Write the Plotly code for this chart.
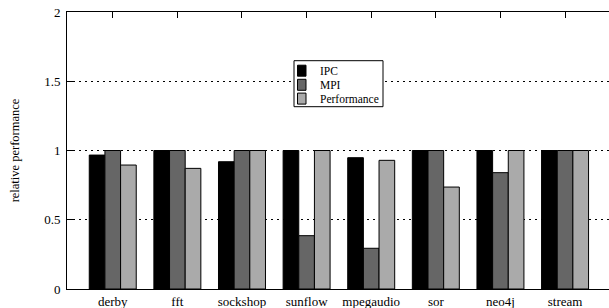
import plotly.graph_objects as go

categories = ["derby", "fft", "sockshop", "sunflow", "mpegaudio", "sor", "neo4j", "stream"]
ipc = [0.967, 1.0, 0.919, 1.0, 0.948, 1.0, 1.0, 1.0]
mpi = [1.0, 1.0, 1.0, 0.385, 0.294, 1.0, 0.84, 1.0]
performance = [0.895, 0.871, 1.0, 1.0, 0.929, 0.736, 1.0, 1.0]
series_names = ["IPC", "MPI", "Performance"]
series_colors = ["#000000", "#666666", "#aaaaaa"]
y_tickvals = [0, 0.5, 1, 1.5, 2]
y_ticktext = ["0", "0.5", "1", "1.5", "2"]

FONT = "Liberation Serif, Times New Roman, serif"
W, H = 609, 308
ML, MR, MT, MB = 67, 0, 12, 19
PW, PH = W - ML - MR, H - MT - MB

def px_x(x):
    return (x - ML) / PW

def px_y(y):
    return 1 - (y - MT) / PH

fig = go.Figure()
for name, vals, col in zip(series_names, [ipc, mpi, performance], series_colors):
    fig.add_trace(go.Bar(
        x=list(range(len(categories))), y=vals, name=name,
        marker=dict(color=col, line=dict(color="#000000", width=1)),
        showlegend=False,
    ))

# custom compact legend
shapes = [dict(type="rect", xref="paper", yref="paper",
               x0=px_x(294), x1=px_x(383), y0=px_y(106.7), y1=px_y(60.7),
               line=dict(color="#000000", width=1), fillcolor="white", layer="above")]
annotations = []
centers = [70.7, 84.8, 98.6]
for name, col, cy in zip(series_names, series_colors, centers):
    shapes.append(dict(type="rect", xref="paper", yref="paper",
                       x0=px_x(297.5), x1=px_x(306), y0=px_y(cy + 5.5), y1=px_y(cy - 5.5),
                       line=dict(color="#000000", width=1), fillcolor=col, layer="above"))
    annotations.append(dict(xref="paper", yref="paper", x=px_x(317.5), y=px_y(cy),
                            text=name, showarrow=False, xanchor="left", yanchor="middle",
                            font=dict(family=FONT, size=11.5, color="#000000")))

fig.update_layout(
    width=W, height=H,
    margin=dict(l=ML, r=MR, t=MT, b=MB, pad=0, autoexpand=False),
    paper_bgcolor="white", plot_bgcolor="white",
    barmode="group", bargap=0.273, bargroupgap=0,
    font=dict(family=FONT, size=13, color="#000000"),
    shapes=shapes, annotations=annotations,
    showlegend=False,
)
fig.update_xaxes(
    range=[-0.708, 7.68],
    tickmode="array", tickvals=list(range(len(categories))), ticktext=categories,
    ticks="inside", ticklen=6, tickcolor="#000000",
    showline=True, linecolor="#000000", linewidth=1, mirror="ticks",
    showgrid=False, zeroline=False, layer="below traces",
    tickfont=dict(family=FONT, size=13), automargin=False,
)
fig.update_yaxes(
    range=[0, 2],
    tickmode="array", tickvals=y_tickvals, ticktext=y_ticktext,
    ticks="inside", ticklen=7, tickcolor="#000000",
    showline=True, linecolor="#000000", linewidth=1,
    showgrid=True, gridcolor="#000000", griddash="2px,4px", gridwidth=1,
    zeroline=False, layer="below traces", ticklabelstandoff=3,
    ticklabeloverflow="allow",
    title=dict(text="relative performance", standoff=21, font=dict(family=FONT, size=12.5)),
    tickfont=dict(family=FONT, size=13), automargin=False,
)
fig.write_html(
    "out.html",
    config={"displayModeBar": False},
    post_script="document.body.style.margin='0';document.body.style.padding='0';",
)
